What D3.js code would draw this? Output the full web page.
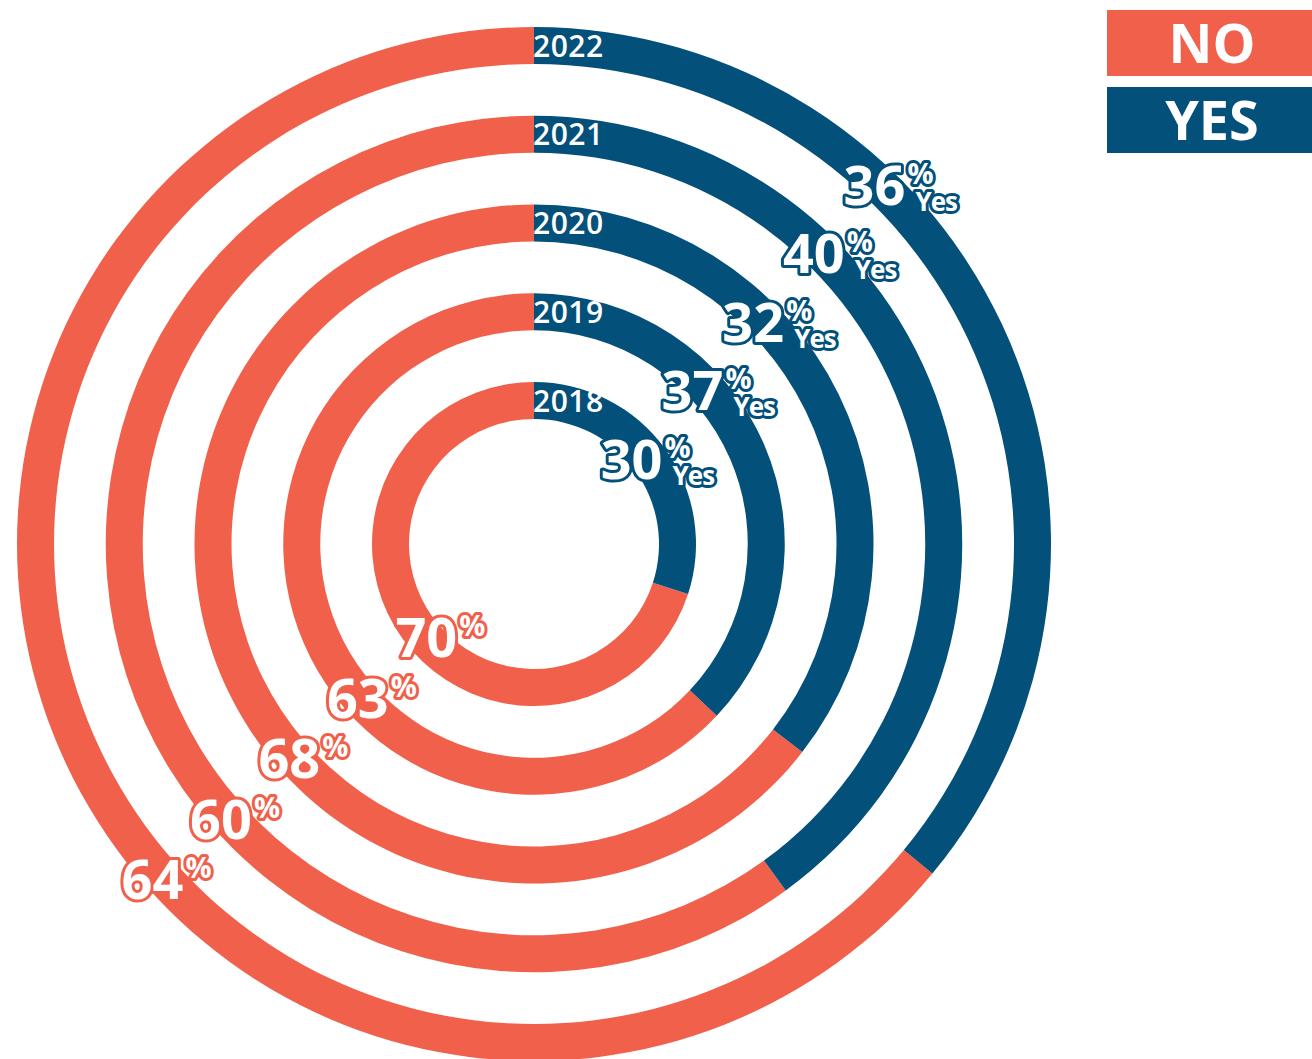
<!DOCTYPE html>
<html>
<head>
<meta charset="utf-8">
<script src="https://cdn.jsdelivr.net/npm/d3@7"></script>
<style>
  html, body { margin: 0; padding: 0; background: #fff; }
  svg { display: block; font-family: "Open Sans", sans-serif; }
</style>
</head>
<body>
<svg id="chart" width="1312" height="1059"></svg>
<script>
// Data, inner ring first
const years = ['2018', '2019', '2020', '2021', '2022'];
const yesValues = [30, 37, 32, 40, 36];
const noValues = [70, 63, 68, 60, 64];
// share of each ring drawn blue, as measured on the picture (2020 is drawn wider than its label)
const yesDrawn = [30, 37, 35.5, 40, 36];
const legendLabels = ['NO', 'YES'];

const RED = '#F0604B';
const BLUE = '#03517A';

const cx = 534;
const cy = 544;
const thickness = 37;

const svg = d3.select('#chart');

// Scales
const rScale = d3.scaleLinear()
  .domain([0, years.length - 1])
  .range([162, 517]);

const angle = d3.scaleLinear()
  .domain([0, 100])
  .range([0, 2 * Math.PI]);

const arc = d3.arc();

const g = svg.append('g')
  .attr('transform', `translate(${cx},${cy})`);

const rings = years.map((year, i) => ({
  year,
  yes: yesValues[i],
  no: noValues[i],
  drawn: yesDrawn[i],
  outer: rScale(i),
  inner: rScale(i) - thickness
}));

// No arcs (red)
g.selectAll('.no-arc')
  .data(rings)
  .enter().append('path')
  .attr('class', 'no-arc')
  .attr('fill', RED)
  .attr('d', d => arc({
    innerRadius: d.inner,
    outerRadius: d.outer,
    startAngle: angle(d.drawn),
    endAngle: angle(100)
  }));

// Yes arcs (blue)
g.selectAll('.yes-arc')
  .data(rings)
  .enter().append('path')
  .attr('class', 'yes-arc')
  .attr('fill', BLUE)
  .attr('d', d => arc({
    innerRadius: d.inner,
    outerRadius: d.outer,
    startAngle: angle(0),
    endAngle: angle(d.drawn)
  }));

// Year labels at the top of each ring
g.selectAll('.year')
  .data(rings)
  .enter().append('text')
  .attr('class', 'year')
  .attr('x', -1)
  .attr('y', d => -(d.outer - thickness / 2) + 11)
  .attr('fill', '#fff')
  .attr('font-size', 30)
  .attr('font-weight', 600)
  .attr('letter-spacing', 0.5)
  .text(d => d.year);

// Outlined percentage labels
function pctLabel(sel, color, withYes) {
  sel.append('text')
    .attr('text-anchor', 'middle')
    .attr('y', 19)
    .attr('font-size', 54)
    .attr('font-weight', 700)
    .text(d => withYes ? d.yes : d.no);
  sel.append('text')
    .attr('x', 33)
    .attr('y', -2)
    .attr('font-size', 29)
    .attr('font-weight', 700)
    .text('%');
  if (withYes) {
    sel.append('text')
      .attr('x', 41)
      .attr('y', 25)
      .attr('font-size', 26)
      .attr('font-weight', 700)
      .attr('letter-spacing', -1)
      .text('Yes');
  }
  sel.selectAll('text')
    .attr('fill', '#fff')
    .attr('stroke', color)
    .attr('stroke-width', 6)
    .attr('stroke-linejoin', 'round')
    .attr('paint-order', 'stroke');
}

g.selectAll('.yes-label')
  .data(rings)
  .enter().append('g')
  .attr('class', 'yes-label')
  .attr('transform', d => {
    const r = d.inner * 1.03;
    const a = (41.5 + 1000 / r) * Math.PI / 180;
    return `translate(${r * Math.sin(a)},${-r * Math.cos(a)})`;
  })
  .call(pctLabel, BLUE, true);

const noAngle = 228.5 * Math.PI / 180;
g.selectAll('.no-label')
  .data(rings)
  .enter().append('g')
  .attr('class', 'no-label')
  .attr('transform', d => {
    const r = (d.outer - thickness / 2) * 1.03;
    return `translate(${r * Math.sin(noAngle) + 3},${-r * Math.cos(noAngle) - 4})`;
  })
  .call(pctLabel, RED, false);

// Legend
const legend = svg.append('g')
  .selectAll('g')
  .data(legendLabels)
  .enter().append('g')
  .attr('transform', (d, i) => `translate(1107,${10 + i * 77})`);

legend.append('rect')
  .attr('width', 205)
  .attr('height', 66)
  .attr('fill', (d, i) => i === 0 ? RED : BLUE);

legend.append('text')
  .attr('x', 105)
  .attr('y', 53)
  .attr('text-anchor', 'middle')
  .attr('fill', '#fff')
  .attr('font-size', 54)
  .attr('font-weight', 700)
  .text(d => d);
</script>
</body>
</html>
